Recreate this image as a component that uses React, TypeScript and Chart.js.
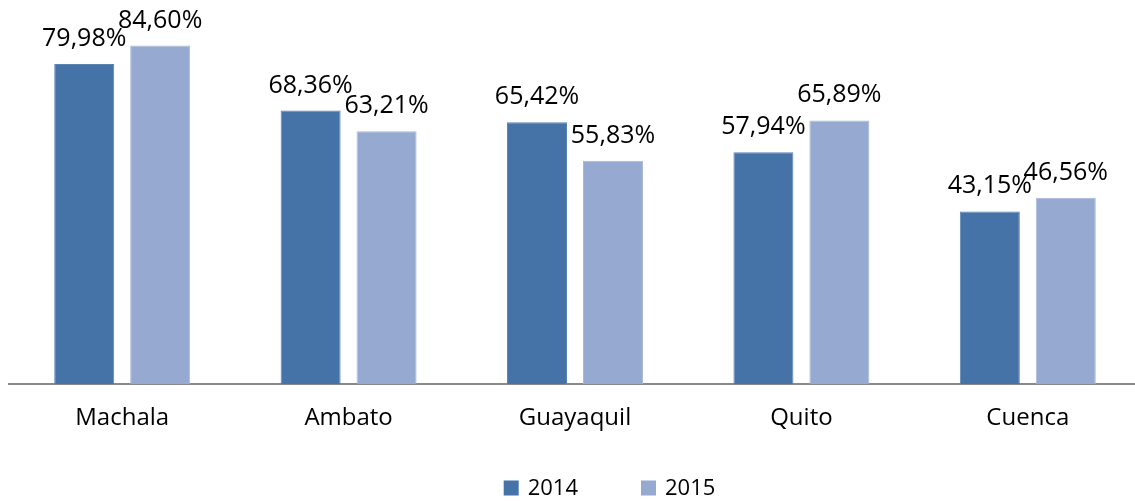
import React, { useEffect, useRef } from "react";
import { Chart, registerables } from "chart.js";

Chart.register(...registerables);

const categories = ["Machala", "Ambato", "Guayaquil", "Quito", "Cuenca"];
const seriesNames = ["2014", "2015"];
const values2014 = [79.98, 68.36, 65.42, 57.94, 43.15];
const values2015 = [84.6, 63.21, 55.83, 65.89, 46.56];

const COLOR_2014 = "#4572A7";
const COLOR_2015 = "#95A9D1";
const FONT = "'Open Sans', 'Noto Sans', sans-serif";

const fmt = (v: number) => v.toFixed(2).replace(".", ",") + "%";

const dataLabelPlugin = {
  id: "dataLabels",
  afterDatasetsDraw(chart: any) {
    const ctx = chart.ctx;
    ctx.save();
    ctx.font = `25px ${FONT}`;
    ctx.fillStyle = "#000000";
    ctx.textAlign = "center";
    ctx.textBaseline = "alphabetic";
    chart.data.datasets.forEach((ds: any, di: number) => {
      const meta = chart.getDatasetMeta(di);
      meta.data.forEach((bar: any, i: number) => {
        ctx.fillText(fmt(ds.data[i]), bar.x, bar.y - 18);
      });
    });
    ctx.restore();
  },
};

const customLegendPlugin = {
  id: "customLegend",
  afterDraw(chart: any) {
    const ctx = chart.ctx;
    ctx.save();
    ctx.font = `22px ${FONT}`;
    ctx.textBaseline = "middle";
    ctx.textAlign = "left";
    const box = 15;
    const gap = 9;
    const spacing = 63;
    const widths = chart.data.datasets.map((ds: any) => box + gap + ctx.measureText(ds.label).width);
    const total = widths.reduce((a: number, b: number) => a + b, 0) + spacing * (widths.length - 1);
    const centerX = 609.5;
    const cy = 488;
    let x = centerX - total / 2;
    chart.data.datasets.forEach((ds: any, i: number) => {
      ctx.fillStyle = ds.backgroundColor;
      ctx.fillRect(x, cy - box / 2, box, box);
      ctx.fillStyle = "#000000";
      ctx.fillText(ds.label, x + box + gap, cy + 1);
      x += widths[i] + spacing;
    });
    ctx.restore();
  },
};

export default function App() {
  const canvasRef = useRef<HTMLCanvasElement | null>(null);

  useEffect(() => {
    if (!canvasRef.current) return;
    const chart = new Chart(canvasRef.current, {
      type: "bar",
      data: {
        labels: categories,
        datasets: [
          {
            label: seriesNames[0],
            data: values2014,
            backgroundColor: COLOR_2014,
            borderColor: "#5B84B3",
            borderWidth: 1,
            categoryPercentage: 0.671,
            barPercentage: 0.79,
          },
          {
            label: seriesNames[1],
            data: values2015,
            backgroundColor: COLOR_2015,
            borderColor: "#A7B8DA",
            borderWidth: 1,
            categoryPercentage: 0.671,
            barPercentage: 0.79,
          },
        ],
      },
      options: {
        animation: false,
        responsive: false,
        devicePixelRatio: 1,
        layout: { padding: { left: 9, right: 0, top: 0, bottom: 0 } },
        plugins: {
          legend: { display: false },
          tooltip: { enabled: false },
        },
        scales: {
          y: {
            display: false,
            min: 0,
            max: 96,
          },
          x: {
            grid: { display: false, drawTicks: false },
            border: { display: true, color: "#898989", width: 2 },
            ticks: {
              color: "#000000",
              font: { family: FONT, size: 24 },
              padding: 20,
              autoSkip: false,
              maxRotation: 0,
            },
            afterFit(scale: any) {
              scale.height = 117;
            },
          },
        },
      },
      plugins: [dataLabelPlugin, customLegendPlugin],
    });
    return () => chart.destroy();
  }, []);

  return (
    <div
      style={{
        position: "fixed",
        left: 0,
        top: 0,
        width: 1135,
        height: 501,
        overflow: "hidden",
        background: "#ffffff",
      }}
    >
      <canvas ref={canvasRef} width={1141} height={501} style={{ display: "block" }} />
    </div>
  );
}
